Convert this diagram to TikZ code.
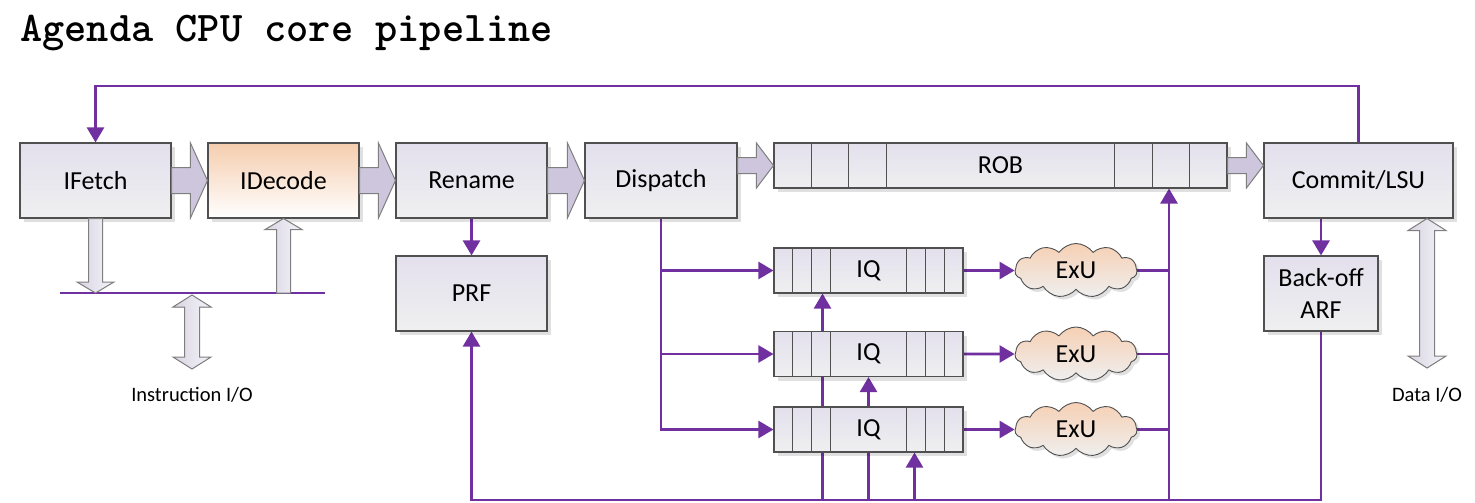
\documentclass[tikz,border=0pt]{standalone}
\usepackage{fontspec}
\setmainfont{Carlito}
\usetikzlibrary{arrows.meta,calc,shapes.symbols,shadows,backgrounds}

\begin{document}
\begin{tikzpicture}[x=1pt, y=-1pt,
    stage/.style={draw=borderColour, line width=1.1pt, top color=boxTop, bottom color=boxBottom,
      minimum width=151pt, minimum height=75pt, inner sep=0pt, align=center,
      font=\fontsize{26}{32}\selectfont,
      drop shadow={shadow xshift=4pt, shadow yshift=-4pt, fill=black, opacity=0.12}},
    queue/.style={stage, minimum width=189pt, minimum height=45pt},
    unit/.style={cloud, cloud puffs=11, cloud puff arc=110, aspect=2.2, draw=borderColour,
      line width=0.9pt, top color=exuTop, bottom color=exuBottom, inner sep=0pt,
      minimum width=122pt, minimum height=54pt, font=\fontsize{26}{32}\selectfont,
      drop shadow={shadow xshift=3pt, shadow yshift=-3pt, fill=black, opacity=0.12}},
    cell/.style={draw=borderColour, line width=1pt},
    flow/.style={draw=flowColour, line width=2.6pt},
    flowarrow/.style={flow, -{Triangle[width=17pt,length=15pt]}},
    bigarrow/.style={draw=arrowBorder, line width=1pt, fill=arrowFill},
    ioarrow/.style={draw=arrowBorder, line width=1pt, left color=ioLeft, right color=ioRight},
    iolabel/.style={font=\fontsize{20.5}{24}\selectfont, inner sep=0pt}
  ]
    % Define colours
    \definecolor{borderColour}{HTML}{505050}
    \definecolor{boxTop}{HTML}{E3E0ED}
    \definecolor{boxBottom}{HTML}{EFEFF0}
    \definecolor{decodeTop}{HTML}{F5CDAE}
    \definecolor{decodeBottom}{HTML}{FFFFFF}
    \definecolor{exuTop}{HTML}{F6D0B4}
    \definecolor{exuBottom}{HTML}{EFEFEF}
    \definecolor{flowColour}{HTML}{7030A0}
    \definecolor{arrowFill}{HTML}{CDC6DC}
    \definecolor{arrowBorder}{HTML}{7F7F7F}
    \definecolor{ioLeft}{HTML}{D9D5E3}
    \definecolor{ioRight}{HTML}{F4F3F8}

    \useasboundingbox (0,0) rectangle (1475,503);

    % Title
    \node[anchor=base west, inner sep=0pt, font=\ttfamily\bfseries\fontsize{42.3}{44}\selectfont]
        (title) at (20,42) {Agenda CPU core pipeline};

    % Pipeline stages
    \node[stage] (ifetch) at (95.5,180.5) {IFetch};
    \node[stage, top color=decodeTop, bottom color=decodeBottom] (idecode) at (283.5,180.5) {IDecode};
    \node[stage] (rename) at (471.5,180.5) {Rename};
    \node[stage, minimum width=152pt] (dispatch) at (661,180.5) {Dispatch};
    \node[stage, minimum width=453pt, minimum height=45pt] (rob) at (1000.5,165.5) {ROB};
    \node[stage, minimum width=189pt] (commit) at (1358.5,180.5) {Commit/LSU};
    \node[stage] (prf) at (471.5,293.5) {PRF};
    \node[stage, minimum width=114pt] (arf) at (1321,293.5) {Back-off\\ARF};

    % Issue queues and execution units
    \node[queue] (iq1) at (868.5,270.5) {IQ};
    \node[queue] (iq2) at (868.5,354) {IQ};
    \node[queue] (iq3) at (868.5,429.5) {IQ};
    \node[unit] (exu1) at (1076,270.5) {ExU};
    \node[unit] (exu2) at (1076,354) {ExU};
    \node[unit] (exu3) at (1076,429.5) {ExU};

    % Queue cells
    \foreach \d in {37.7,75.4,113.1} {
        \draw[cell] ($(rob.south west)+(\d,0)$) -- ($(rob.north west)+(\d,0)$);
        \draw[cell] ($(rob.south east)+(-\d,0)$) -- ($(rob.north east)+(-\d,0)$);
    }
    \foreach \q in {iq1,iq2,iq3}
        \foreach \d in {19,38,57} {
            \draw[cell] ($(\q.south west)+(\d,0)$) -- ($(\q.north west)+(\d,0)$);
            \draw[cell] ($(\q.south east)+(-\d,0)$) -- ($(\q.north east)+(-\d,0)$);
        }

    % Wide arrows between stages
    \def\fatarrow#1#2#3#4#5{%
        \path (#1.east |- #3) coordinate (fa-s) (#2.west |- #3) coordinate (fa-t);
        \filldraw[bigarrow] ($(fa-s)+(0,-#4)$) -- ($(fa-t)+(-17,-#4)$) -- ($(fa-t)+(-17,-#5)$)
            -- (fa-t) -- ($(fa-t)+(-17,#5)$) -- ($(fa-t)+(-17,#4)$) -- ($(fa-s)+(0,#4)$) -- cycle;}
    \fatarrow{ifetch}{idecode}{ifetch}{13}{37.5}
    \fatarrow{idecode}{rename}{idecode}{13}{37.5}
    \fatarrow{rename}{dispatch}{rename}{13}{37.5}
    \fatarrow{dispatch}{rob}{rob}{8}{22.5}
    \fatarrow{rob}{commit}{rob}{8}{22.5}

    % Instruction bus and I/O arrows
    \coordinate (ibusL) at (60,293);
    \coordinate (ibusR) at (325,293);
    \draw[flow] (ibusL) -- (ibusR);

    \def\vfat#1#2#3{%
        \filldraw[ioarrow] ($(#1)+(-7,0)$) -- ($(#2)+(-7,#3)$) -- ($(#2)+(-18.5,#3)$) -- (#2)
            -- ($(#2)+(18.5,#3)$) -- ($(#2)+(7,#3)$) -- ($(#1)+(7,0)$) -- cycle;}
    \def\vfatboth#1#2{%
        \filldraw[ioarrow] (#1) -- ($(#1)+(19,12)$) -- ($(#1)+(7.5,12)$) -- ($(#2)+(7.5,-12)$)
            -- ($(#2)+(19,-12)$) -- (#2) -- ($(#2)+(-19,-12)$) -- ($(#2)+(-7.5,-12)$)
            -- ($(#1)+(-7.5,12)$) -- ($(#1)+(-19,12)$) -- cycle;}
    \vfat{ifetch.south}{ifetch.south |- ibusL}{-11}
    \vfat{idecode.south |- ibusL}{idecode.south}{11}

    \coordinate (iioTop) at (192,295);
    \coordinate (iioBot) at (192,369);
    \vfatboth{iioTop}{iioBot}
    \node[iolabel] (iioLabel) at (192,395) {Instruction I/O};

    \path (commit.south) ++(68.5,0) coordinate (dioTop);
    \coordinate (dioBot) at (1427,368);
    \vfatboth{dioTop}{dioBot}
    \node[iolabel] (dioLabel) at (1427,395) {Data I/O};

    % Purple connectors
    \coordinate (bus) at (0,500);
    \coordinate (retire) at (1169,500);
    \coordinate (topRoute) at (0,86);
    \begin{scope}[on background layer]
        \draw[flowarrow] (commit.north) -- (commit.north |- topRoute) -| (ifetch.north);
        \draw[flowarrow] (rename.south) -- (prf.north);
        \draw[flowarrow] (arf.north |- commit.south) -- (arf.north);
        \draw[flowarrow] (arf.south) -- (arf.south |- bus) -| (prf.south);

        % Dispatch to issue queues
        \draw[flowarrow] (dispatch.south) |- (iq3.west);
        \draw[flowarrow] (dispatch.south |- iq1.west) -- (iq1.west);
        \draw[flowarrow] (dispatch.south |- iq2.west) -- (iq2.west);

        % Issue to execution, results to ROB
        \foreach \n in {1,2,3} {
            \draw[flowarrow] (iq\n.east) -- (exu\n.west);
            \draw[flow] (exu\n.east) -- (exu\n.east -| retire);
        }
        \draw[flowarrow] (retire) -- (retire |- rob.south);

        % Wake-up lines from the result bus
        \path ([xshift=-46pt]iq1.south) coordinate (wk1)
              (iq2.south) coordinate (wk2)
              ([xshift=46pt]iq3.south) coordinate (wk3);
        \draw[flowarrow] (wk1 |- bus) -- (wk1);
        \draw[flowarrow] (wk2 |- bus) -- (wk2);
        \draw[flowarrow] (wk3 |- bus) -- (wk3);
    \end{scope}

\end{tikzpicture}
\end{document}
